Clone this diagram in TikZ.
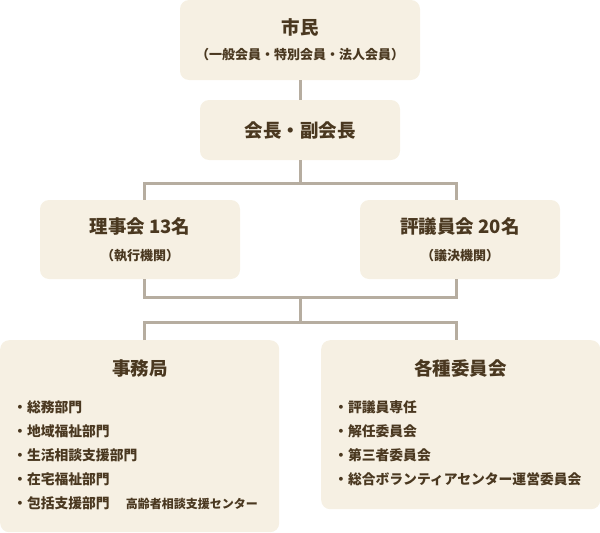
\documentclass[tikz,border=0pt]{standalone}
\usepackage{fontspec}
\setmainfont{Noto Sans CJK JP}
\usetikzlibrary{positioning}
\definecolor{boxfill}{HTML}{F6F0E3}
\definecolor{linegray}{HTML}{B6ADA0}
\definecolor{inkbrown}{HTML}{4A3820}
\tikzset{
  orgbox/.style={fill=boxfill, rounded corners=9pt, inner sep=0pt, align=center, text=inkbrown,
    font=\fontsize{18.5}{22}\selectfont\bfseries},
  conn/.style={draw=linegray, line width=3pt},
  headtext/.style={text=inkbrown, inner sep=0pt, font=\fontsize{18.5}{22}\selectfont\bfseries},
  listtext/.style={text=inkbrown, align=left, anchor=north west, inner sep=0pt,
    font=\fontsize{13.8}{24}\selectfont\bfseries},
}
\newcommand{\subline}[1]{{\fontsize{13}{15}\selectfont #1}}
\begin{document}
\begin{tikzpicture}[x=1pt,y=-1pt]
    \useasboundingbox (0,0) rectangle (600,533);

    % boxes
    \node [orgbox, minimum width=240pt, minimum height=80pt] (shimin) at (300,40)
        {\raisebox{-2pt}{市民}\\[5pt]\subline{（一般会員・特別会員・法人会員）}};
    \node [orgbox, minimum width=200pt, minimum height=60pt] (kaicho) at (300,130) {会長・副会長};

    \node [orgbox, minimum width=200pt, minimum height=79pt] (rijikai) at (140,239.5)
        {理事会 13名\\[5pt]\subline{（執行機関）}};
    \node [orgbox, minimum width=200pt, minimum height=79pt] (hyogiin) at (460,239.5)
        {評議員会 20名\\[5pt]\subline{（議決機関）}};

    \node [orgbox, minimum width=279pt, minimum height=192pt, anchor=north west] (jimukyoku) at (0,340) {};
    \node [orgbox, minimum width=279pt, minimum height=169pt, anchor=north west] (iinkai) at (321,340) {};

    \node [headtext] (jimukyokutitle) at (140,368) {事務局};
    \node [headtext] (iinkaititle) at (460.5,368) {各種委員会};

    \node [listtext] (jimukyokulist) at (13,400) {・総務部門\\・地域福祉部門\\・生活相談支援部門\\・在宅福祉部門\\
        ・包括支援部門\hspace{16pt}{\fontsize{12}{24}\selectfont 高齢者相談支援センター}};
    \node [listtext] (iinkailist) at (334,400) {・評議員専任\\・解任委員会\\・第三者委員会\\・総合ボランティアセンター運営委員会};

    % connectors
    \coordinate (lx) at (144,0);
    \coordinate (rx) at (456,0);
    \coordinate (j1) at (300,183);
    \coordinate (j2) at (300,297);
    \coordinate (j3) at (300,322);

    \draw [conn] (shimin) -- (kaicho);
    \draw [conn] (kaicho) -- (j1);
    \draw [conn] (rijikai.north -| lx) |- (j1) -| (hyogiin.north -| rx);
    \draw [conn] (rijikai.south -| lx) |- (j2) -| (hyogiin.south -| rx);
    \draw [conn] (j2) -- (j3);
    \draw [conn] (jimukyoku.north -| lx) |- (j3) -| (iinkai.north -| rx);
\end{tikzpicture}
\end{document}
